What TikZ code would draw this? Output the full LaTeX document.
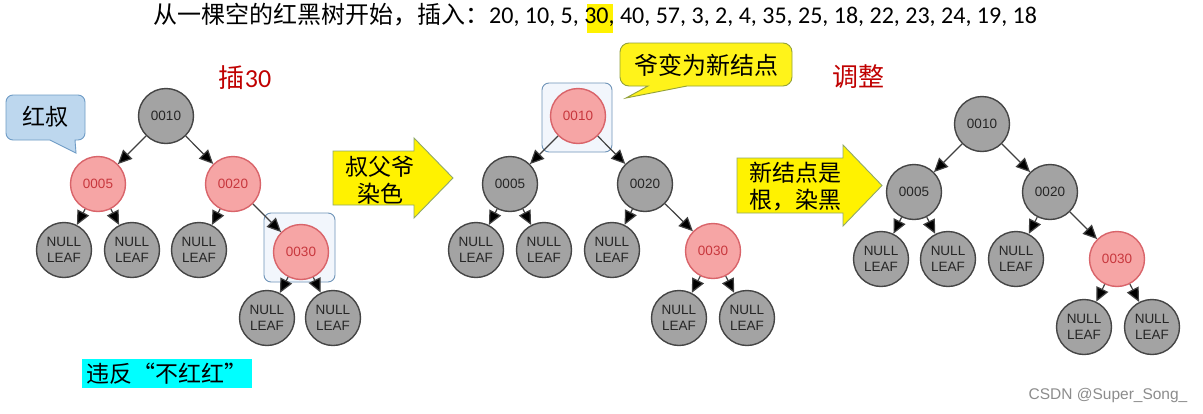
\documentclass[tikz,border=0pt]{standalone}
\usepackage{fontspec}
\setmainfont{Liberation Sans}
\newfontfamily\cjk{Noto Sans CJK SC}
\newfontfamily\cjkfw[RawFeature=+fwid]{Noto Sans CJK SC}
\newfontfamily\calf{Carlito}
\usetikzlibrary{arrows.meta}
\definecolor{grfill}{HTML}{A3A3A3}
\definecolor{grbd}{HTML}{454545}
\definecolor{rdfill}{HTML}{F6A5A5}
\definecolor{rdbd}{HTML}{D9646A}
\definecolor{rdtxt}{HTML}{C8373D}
\definecolor{edgec}{HTML}{404040}
\definecolor{selfill}{HTML}{F2F6FC}
\definecolor{selbd}{HTML}{6F94B8}
\definecolor{cbfill}{HTML}{BDD7EE}
\definecolor{cbbd}{HTML}{6F9CC6}
\definecolor{arrbd}{HTML}{8FA86A}
\definecolor{cybd}{HTML}{93A13A}
\definecolor{darkred}{HTML}{C00000}
\definecolor{hlyel}{HTML}{FFF200}
\definecolor{cyanlab}{HTML}{00FFFF}
\begin{document}
\begin{tikzpicture}[x=1pt,y=-1pt,
  blacknode/.style={circle,draw=grbd,fill=grfill,line width=1.4pt,minimum size=55pt,inner sep=0pt,
    text=black!85,font=\fontsize{13.5}{16}\selectfont,align=center},
  rednode/.style={blacknode,draw=rdbd,fill=rdfill,text=rdtxt},
  leafnode/.style={blacknode},
  edge/.style={draw=edgec,line width=1.2pt,-{Triangle[length=14pt,width=13pt,fill=black]}},
  selbox/.style={draw=selbd,fill=selfill,line width=0.9pt,rounded corners=7pt},
  blockarrow/.style={draw=arrbd,fill=yellow,line width=0.9pt},
  cjktext/.style={font=\cjk\fontsize{23}{27}\selectfont,align=center,inner sep=0pt}
]
\useasboundingbox (0,0) rectangle (1203,413);
\fill[white] (0,0) rectangle (1203,413);

% title
\fill[hlyel] (587,4) rectangle (613,33);
\node (title) [anchor=base west,inner sep=0pt,font=\fontsize{24}{28}\selectfont] at (153,23)
  {\cjk 从一棵空的红黑树开始，插入：\calf 20, 10, 5, 30, 40, 57, 3, 2, 4, 35, 25, 18, 22, 23, 24, 19, 18};

% headings
\node (h1) [inner sep=0pt,text=darkred,font=\fontsize{26}{30}\selectfont] at (245,78) {\cjk 插\calf 30};
\node (h2) [inner sep=0pt,text=darkred,font=\cjk\fontsize{26}{30}\selectfont] at (858,77) {调整};

% selection boxes
\draw[selbox] (264,213) rectangle (335,282);
\draw[selbox] (542,83) rectangle (612,152);

% callout 红叔
\draw[draw=cbbd,fill=cbfill,line width=0.9pt] (76,153) -- (50,140) [rounded corners=7pt] -- (6,140) -- (6,95) -- (85,95) -- (85,140) [sharp corners] -- (75,140) -- cycle;
\node (c1) [cjktext] at (45,117) {红叔};

% callout 爷变为新结点
\draw[draw=cybd,fill=yellow!90!white,line width=0.9pt] (626,98) -- (648,86) [rounded corners=9pt] -- (620,86) -- (620,43) -- (792,43) -- (792,86) [sharp corners] -- (687,86) -- cycle;
\node (c2) [cjktext,font=\cjk\fontsize{24}{28}\selectfont] at (706,65) {爷变为新结点};

% block arrows
\draw[blockarrow] (333,151) -- (414,151) -- (414,138) -- (453,178) -- (414,218) -- (414,205) -- (333,205) -- cycle;
\node (a1) [cjktext] at (380,180) {叔父爷\\染色};
\draw[blockarrow] (737,158) -- (843,158) -- (843,145) -- (882,185.5) -- (843,226) -- (843,213) -- (737,213) -- cycle;
\node (a2) [cjktext] at (795,187) {新结点是\\根，染黑};

% cyan label
\fill[cyanlab] (82,359) rectangle (252,388);
\node (lab) [cjktext,font=\cjkfw\fontsize{23}{27}\selectfont] at (167,373.5) {违反“不红红”};

% watermark
\node (wm) [inner sep=0pt,text=black!45,font=\fontsize{15.5}{18}\selectfont] at (1108,395) {CSDN @Super\_Song\_};

% left tree
\node[blacknode] (L10) at (166,116) {0010};
\node[rednode] (L5) at (98,184) {0005};
\node[rednode] (L20) at (233,184) {0020};
\node[leafnode] (L5a) at (64,250) {NULL\\LEAF};
\node[leafnode] (L5b) at (132,250) {NULL\\LEAF};
\node[leafnode] (L20a) at (199,250) {NULL\\LEAF};
\node[rednode] (L30) at (301,252) {0030};
\node[leafnode] (L30a) at (267,318) {NULL\\LEAF};
\node[leafnode] (L30b) at (333,318) {NULL\\LEAF};

% middle tree
\node[rednode] (M10) at (578,116) {0010};
\node[blacknode] (M5) at (510,184) {0005};
\node[blacknode] (M20) at (645,184) {0020};
\node[leafnode] (M5a) at (476,250) {NULL\\LEAF};
\node[leafnode] (M5b) at (544,250) {NULL\\LEAF};
\node[leafnode] (M20a) at (612,250) {NULL\\LEAF};
\node[rednode] (M30) at (713,251) {0030};
\node[leafnode] (M30a) at (679,318) {NULL\\LEAF};
\node[leafnode] (M30b) at (747,318) {NULL\\LEAF};

% right tree
\node[blacknode] (R10) at (982,124) {0010};
\node[blacknode] (R5) at (914,192) {0005};
\node[blacknode] (R20) at (1050,192) {0020};
\node[leafnode] (R5a) at (881,259) {NULL\\LEAF};
\node[leafnode] (R5b) at (948,259) {NULL\\LEAF};
\node[leafnode] (R20a) at (1016,259) {NULL\\LEAF};
\node[rednode] (R30) at (1117,259) {0030};
\node[leafnode] (R30a) at (1084,327) {NULL\\LEAF};
\node[leafnode] (R30b) at (1152,327) {NULL\\LEAF};

\foreach \t in {L,M,R}{
  \draw[edge] (\t10) -- (\t5);
  \draw[edge] (\t10) -- (\t20);
  \draw[edge] (\t5) -- (\t5a);
  \draw[edge] (\t5) -- (\t5b);
  \draw[edge] (\t20) -- (\t20a);
  \draw[edge] (\t20) -- (\t30);
  \draw[edge] (\t30) -- (\t30a);
  \draw[edge] (\t30) -- (\t30b);
}
\end{tikzpicture}
\end{document}
